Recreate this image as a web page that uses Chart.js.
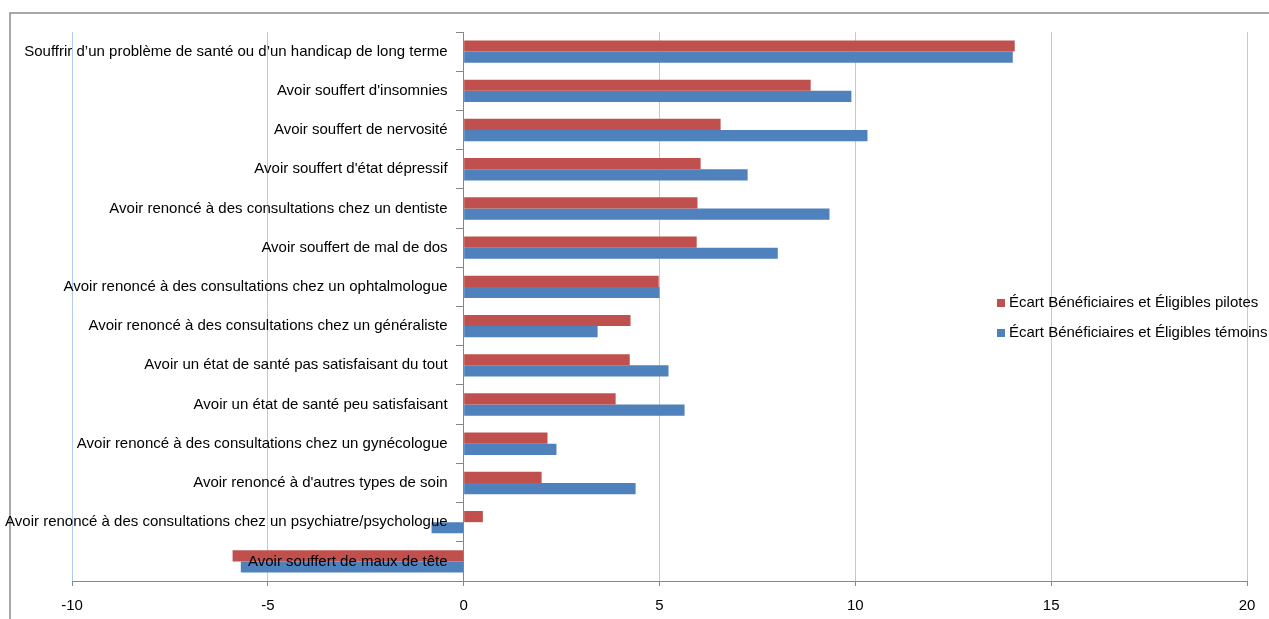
<!DOCTYPE html>
<html lang="fr">
<head>
<meta charset="UTF-8">
<title>Écarts de santé</title>
<script src="https://cdn.jsdelivr.net/npm/chart.js@4.4.0/dist/chart.umd.min.js"></script>
<style>
  html, body { margin: 0; padding: 0; background: #fff; }
  #wrap { width: 1269px; height: 619px; position: relative; }
</style>
</head>
<body>
<div id="wrap"><canvas id="graphe"></canvas></div>
<script>
const categories = [
  "Souffrir d\u2019un problème de santé ou d\u2019un handicap de long terme",
  "Avoir souffert d'insomnies",
  "Avoir souffert de nervosité",
  "Avoir souffert d'état dépressif",
  "Avoir renoncé à des consultations chez un dentiste",
  "Avoir souffert de mal de dos",
  "Avoir renoncé à des consultations chez un ophtalmologue",
  "Avoir renoncé à des consultations chez un généraliste",
  "Avoir un état de santé pas satisfaisant du tout",
  "Avoir un état de santé peu satisfaisant",
  "Avoir renoncé à des consultations chez un gynécologue",
  "Avoir renoncé à d'autres types de soin",
  "Avoir renoncé à des consultations chez un psychiatre/psychologue",
  "Avoir souffert de maux de tête"
];
const ecartPilotes = [14.07, 8.86, 6.56, 6.05, 5.97, 5.95, 4.98, 4.26, 4.24, 3.88, 2.14, 1.99, 0.49, -5.9];
const ecartTemoins = [14.02, 9.9, 10.31, 7.25, 9.34, 8.02, 5.0, 3.42, 5.23, 5.64, 2.37, 4.39, -0.82, -5.69];
const seriesNames = ["Écart Bénéficiaires et Éligibles pilotes", "Écart Bénéficiaires et Éligibles témoins"];
const seriesColors = ["#C0504D", "#4F81BD"];

const police = "'Liberation Sans', Arial, sans-serif";
Chart.defaults.font.family = police;
Chart.defaults.font.size = 15;
Chart.defaults.color = "#000";

// cadre gris autour du graphique
const cadre = {
  id: "cadre",
  beforeDraw(chart) {
    const c = chart.ctx;
    c.save();
    c.strokeStyle = "#8c8c8c";
    c.lineWidth = 1.5;
    c.beginPath();
    c.moveTo(10, chart.height + 5);
    c.lineTo(10, 13);
    c.lineTo(chart.width + 5, 13);
    c.stroke();
    c.restore();
  }
};

// légende posée par-dessus la zone de tracé, à droite
const legendeDroite = {
  id: "legendeDroite",
  afterDraw(chart) {
    const c = chart.ctx;
    c.save();
    c.font = "15px " + police;
    c.textBaseline = "middle";
    chart.data.datasets.forEach((ds, i) => {
      const y = 303 + i * 30;
      c.fillStyle = ds.backgroundColor;
      c.fillRect(997, y - 4, 8, 8);
      c.fillStyle = "#000";
      c.fillText(ds.label, 1009, y);
    });
    c.restore();
  }
};

new Chart(document.getElementById("graphe"), {
  type: "bar",
  data: {
    labels: categories,
    datasets: [
      { label: seriesNames[0], data: ecartPilotes, backgroundColor: seriesColors[0] },
      { label: seriesNames[1], data: ecartTemoins, backgroundColor: seriesColors[1] }
    ]
  },
  options: {
    indexAxis: "y",
    responsive: true,
    maintainAspectRatio: false,
    animation: false,
    layout: { padding: { left: 72, right: 22, top: 32, bottom: -7 } },
    datasets: { bar: { categoryPercentage: 0.57, barPercentage: 1 } },
    plugins: { legend: { display: false }, tooltip: { enabled: false } },
    scales: {
      x: {
        min: -10,
        max: 20,
        ticks: { stepSize: 5, padding: 11, color: "#000" },
        grid: { color: "#b3cbf0", tickColor: "#868686", tickLength: 5 },
        border: { color: "#868686" }
      },
      // axe vertical sur le zéro : trait et graduations seulement
      y: {
        position: { x: 0 },
        ticks: { display: false },
        grid: { drawOnChartArea: false, tickColor: "#868686", tickLength: 7, offset: true },
        border: { color: "#868686" }
      },
      // libellés des catégories, un peu à gauche du zéro, dessinés au-dessus des barres
      libelles: {
        type: "category",
        axis: "y",
        position: { x: -0.41 },
        ticks: { color: "#000", autoSkip: false, z: 1 },
        grid: { display: false },
        border: { display: false }
      }
    }
  },
  plugins: [cadre, legendeDroite]
});
</script>
</body>
</html>
